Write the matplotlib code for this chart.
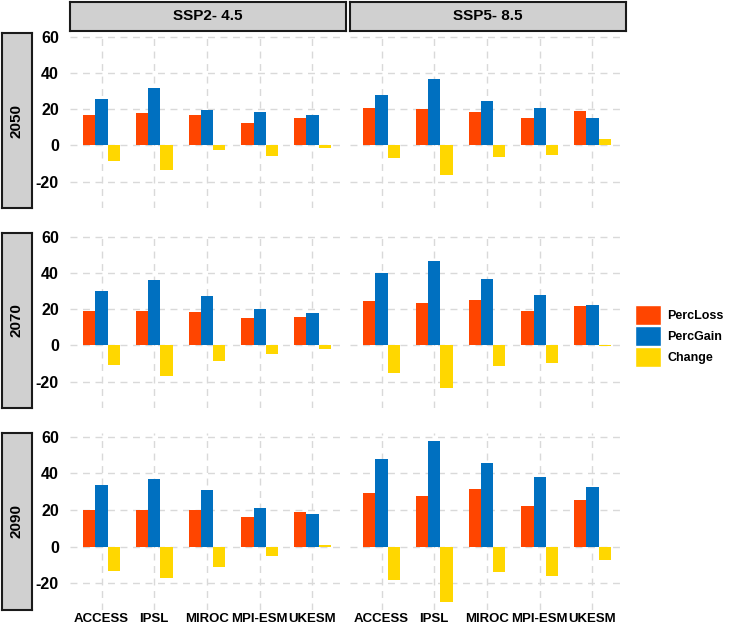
import matplotlib
matplotlib.use("Agg")
import matplotlib.pyplot as plt
from matplotlib.patches import Patch
import numpy as np

models = ["ACCESS", "IPSL", "MIROC", "MPI-ESM", "UKESM"]
scenarios = ["SSP2- 4.5", "SSP5- 8.5"]
years = ["2050", "2070", "2090"]

# values, per (year, scenario)
loss_2050_ssp2 = [16.7, 17.8, 16.7, 12.4, 15.1]
gain_2050_ssp2 = [25.5, 31.5, 19.5, 18.4, 16.7]
chg_2050_ssp2 = [-8.7, -13.6, -2.4, -6.0, -1.3]

loss_2050_ssp5 = [20.7, 20.2, 18.5, 15.1, 18.9]
gain_2050_ssp5 = [27.6, 36.4, 24.7, 20.7, 14.9]
chg_2050_ssp5 = [-7.1, -16.2, -6.2, -5.6, 3.5]

loss_2070_ssp2 = [19.1, 18.7, 18.2, 15.1, 15.8]
gain_2070_ssp2 = [29.8, 35.8, 27.1, 19.8, 17.6]
chg_2070_ssp2 = [-11.1, -16.9, -8.9, -4.7, -2.0]

loss_2070_ssp5 = [24.7, 23.5, 25.1, 18.7, 21.5]
gain_2070_ssp5 = [40.0, 46.5, 36.4, 28.0, 22.0]
chg_2070_ssp5 = [-15.1, -23.5, -11.3, -9.5, -0.5]

loss_2090_ssp2 = [20.0, 20.2, 20.0, 16.4, 18.9]
gain_2090_ssp2 = [33.5, 36.9, 30.7, 20.9, 18.0]
chg_2090_ssp2 = [-13.5, -16.9, -11.3, -4.9, 0.7]

loss_2090_ssp5 = [29.5, 27.6, 31.3, 22.4, 25.6]
gain_2090_ssp5 = [47.8, 57.6, 45.5, 38.0, 32.5]
chg_2090_ssp5 = [-18.2, -30.2, -13.8, -16.0, -7.5]

data = {
    ("2050", 0): (loss_2050_ssp2, gain_2050_ssp2, chg_2050_ssp2),
    ("2050", 1): (loss_2050_ssp5, gain_2050_ssp5, chg_2050_ssp5),
    ("2070", 0): (loss_2070_ssp2, gain_2070_ssp2, chg_2070_ssp2),
    ("2070", 1): (loss_2070_ssp5, gain_2070_ssp5, chg_2070_ssp5),
    ("2090", 0): (loss_2090_ssp2, gain_2090_ssp2, chg_2090_ssp2),
    ("2090", 1): (loss_2090_ssp5, gain_2090_ssp5, chg_2090_ssp5),
}

series = ["PercLoss", "PercGain", "Change"]
colors = ["#FF4500", "#0070C0", "#FFD700"]

plt.rcParams["font.family"] = ["Liberation Sans", "DejaVu Sans"]
plt.rcParams["font.weight"] = "bold"

W, H = 729, 626
fig = plt.figure(figsize=(W / 100, H / 100), dpi=100)


def box(x0, y0, x1, y1):
    return [x0 / W, 1 - y1 / H, (x1 - x0) / W, (y1 - y0) / H]


def strip(rect, label, rotation=0):
    sa = fig.add_axes(box(*rect))
    sa.set_facecolor("#D0D0D0")
    sa.set_xticks([])
    sa.set_yticks([])
    for s in sa.spines.values():
        s.set_linewidth(1.5)
        s.set_color("#1a1a1a")
    sa.text(0.5, 0.5, label, transform=sa.transAxes, ha="center", va="center",
            fontsize=11, fontweight="bold", rotation=rotation)


col_x = [(70, 344), (350, 624)]
row_y = [(33, 208), (233, 408), (433, 610)]

x = np.arange(1, len(models) + 1)
bw = 0.233

for c, (cx0, cx1) in enumerate(col_x):
    strip((cx0, 2, cx1 + 2, 31), scenarios[c])

for r, (ry0, ry1) in enumerate(row_y):
    strip((2, ry0, 32, ry1), years[r], rotation=90)
    for c, (cx0, cx1) in enumerate(col_x):
        ax = fig.add_axes(box(cx0, ry0, cx1, ry1))
        vals = data[(years[r], c)]
        for i, (v, col) in enumerate(zip(vals, colors)):
            ax.bar(x + (i - 1) * bw, v, width=bw, color=col, zorder=2)
        ax.set_xlim(0.4, 5.6)
        ax.set_ylim(-34.6, 62.0)
        ax.set_yticks([-20, 0, 20, 40, 60])
        ax.set_xticks(x)
        ax.grid(True, color="#d9d9d9", linestyle=(0, (5, 4)), linewidth=1, zorder=0)
        for s in ax.spines.values():
            s.set_visible(False)
        ax.tick_params(length=0, labelsize=11.5, pad=8)
        if c == 0:
            ax.set_yticklabels(["-20", "0", "20", "40", "60"], fontweight="bold")
        else:
            ax.set_yticklabels([])
        if r == 2:
            ax.set_xticklabels(models, fontsize=9.5, fontweight="bold")
            ax.tick_params(axis="x", pad=2)
        else:
            ax.set_xticklabels([])

handles = [Patch(facecolor=col, edgecolor="white", linewidth=1) for col in colors]
fig.legend(handles, series, loc="center left", bbox_to_anchor=(635 / W, 1 - 336 / H),
           frameon=False, prop={"weight": "bold", "size": 9},
           handlelength=2.1, handleheight=2.1, labelspacing=0.05,
           handletextpad=0.5, borderpad=0, borderaxespad=0)

fig.savefig("out.png", dpi=100)
